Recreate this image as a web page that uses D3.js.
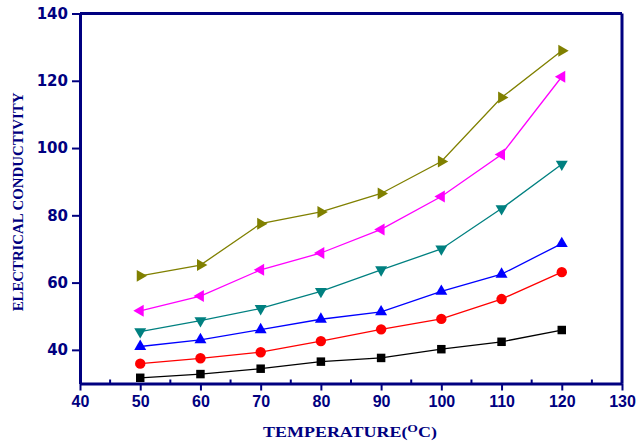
<!DOCTYPE html>
<html>
<head>
<meta charset="utf-8">
<script src="https://cdn.jsdelivr.net/npm/d3@7"></script>
<style>
  body { margin: 0; background: #fff; }
  svg { display: block; }
</style>
</head>
<body>
<svg id="chart" width="640" height="446"></svg>
<script>
// data
var temps = [50, 60, 70, 80, 90, 100, 110, 120];
var s1 = [31.7, 32.8, 34.4, 36.5, 37.6, 40.2, 42.4, 45.9];
var s2 = [35.9, 37.5, 39.3, 42.6, 46.1, 49.2, 55.1, 63.1];
var s3 = [41.0, 43.0, 46.0, 49.1, 51.3, 57.4, 62.5, 71.6];
var s4 = [45.4, 48.7, 52.3, 57.4, 63.8, 70.0, 82.0, 95.2];
var s5 = [51.6, 56.0, 63.8, 68.8, 75.8, 85.6, 98.1, 121.2];
var s6 = [62.0, 65.2, 77.5, 81.0, 86.5, 96.0, 115.0, 128.9];
var xTicks = [40, 50, 60, 70, 80, 90, 100, 110, 120, 130];
var yTicks = [40, 60, 80, 100, 120, 140];

var navy = '#000080';
var svg = d3.select('#chart');

var x = d3.scaleLinear().domain([40, 130]).range([80, 622]);
var y = d3.scaleLinear().domain([30, 140]).range([383.5, 13.5]);

var series = [
  {vals: s1, color: '#000000', shape: 'square'},
  {vals: s2, color: '#ff0000', shape: 'circle'},
  {vals: s3, color: '#0000ff', shape: 'up'},
  {vals: s4, color: '#008080', shape: 'down'},
  {vals: s5, color: '#ff00ff', shape: 'left'},
  {vals: s6, color: '#808000', shape: 'right'}
];

// minor ticks (inside)
var minor = d3.range(45, 130, 10);
svg.append('g').selectAll('line').data(minor).join('line')
  .attr('x1', d => x(d)).attr('x2', d => x(d))
  .attr('y1', 383.5).attr('y2', 379.5)
  .attr('stroke', navy).attr('stroke-width', 2);

// bottom axis
var xAxis = svg.append('g')
  .attr('transform', 'translate(0,383.5)')
  .call(d3.axisBottom(x).tickValues(xTicks).tickSize(7).tickSizeOuter(0).tickPadding(5));
xAxis.select('.domain').attr('stroke', navy).attr('stroke-width', 3);
xAxis.selectAll('.tick line').attr('stroke', navy).attr('stroke-width', 2);
xAxis.selectAll('.tick text')
  .attr('fill', navy)
  .style('font-family', '"Liberation Sans", Arial, sans-serif')
  .style('font-weight', 'bold')
  .style('font-size', '16px');

// left axis
var yAxis = svg.append('g')
  .attr('transform', 'translate(80,0)')
  .call(d3.axisLeft(y).tickValues(yTicks).tickSize(8).tickSizeOuter(0).tickPadding(4));
yAxis.select('.domain').attr('stroke', navy).attr('stroke-width', 3);
yAxis.selectAll('.tick line').attr('stroke', navy).attr('stroke-width', 2);
yAxis.selectAll('.tick text')
  .attr('fill', navy)
  .style('font-family', '"DejaVu Sans", sans-serif')
  .style('font-weight', 'bold')
  .style('font-size', '15px');

// top and right frame
svg.append('line')
  .attr('x1', x(40)).attr('x2', x(130)).attr('y1', y(140)).attr('y2', y(140))
  .attr('stroke', navy).attr('stroke-width', 3);
svg.append('line')
  .attr('x1', x(130)).attr('x2', x(130)).attr('y1', y(140)).attr('y2', y(30))
  .attr('stroke', navy).attr('stroke-width', 3);

// lines and markers
var line = d3.line().x((d, i) => x(temps[i])).y(d => y(d));

var symbolFor = {
  square: d3.symbol().type(d3.symbolSquare).size(72),
  circle: d3.symbol().type(d3.symbolCircle).size(85),
  up: d3.symbol().type(d3.symbolTriangle).size(62),
  down: d3.symbol().type(d3.symbolTriangle).size(62),
  left: d3.symbol().type(d3.symbolTriangle).size(62),
  right: d3.symbol().type(d3.symbolTriangle).size(62)
};
var rot = {square: 0, circle: 0, up: 0, down: 180, left: -90, right: 90};

series.forEach(function(s) {
  svg.append('path')
    .attr('d', line(s.vals))
    .attr('fill', 'none')
    .attr('stroke', s.color)
    .attr('stroke-width', 1.3);
  svg.append('g').selectAll('path').data(s.vals).join('path')
    .attr('d', symbolFor[s.shape])
    .attr('transform', (d, i) => 'translate(' + x(temps[i]) + ',' + y(d) + ') rotate(' + rot[s.shape] + ')')
    .attr('fill', s.color);
});

// axis titles, stretched to the widths seen in the picture
var serif = '"Liberation Serif", "Times New Roman", serif';

var yt = svg.append('text')
  .attr('text-anchor', 'middle')
  .attr('fill', navy)
  .style('font-family', serif)
  .style('font-weight', 'bold')
  .style('font-size', '14.5px')
  .text('ELECTRICAL CONDUCTIVITY');
var yw = yt.node().getComputedTextLength();
yt.attr('transform', 'translate(23,202) rotate(-90) scale(' + (219 / yw) + ',1)');

var xt = svg.append('text')
  .attr('text-anchor', 'middle')
  .attr('fill', navy)
  .style('font-family', serif)
  .style('font-weight', 'bold')
  .style('font-size', '14.5px');
xt.append('tspan').text('TEMPERATURE(');
xt.append('tspan').attr('dy', -5).style('font-size', '11px').text('O');
xt.append('tspan').attr('dy', 5).text('C)');
var xw = xt.node().getComputedTextLength();
xt.attr('transform', 'translate(350,437) scale(' + (174 / xw) + ',1)');
</script>
</body>
</html>
